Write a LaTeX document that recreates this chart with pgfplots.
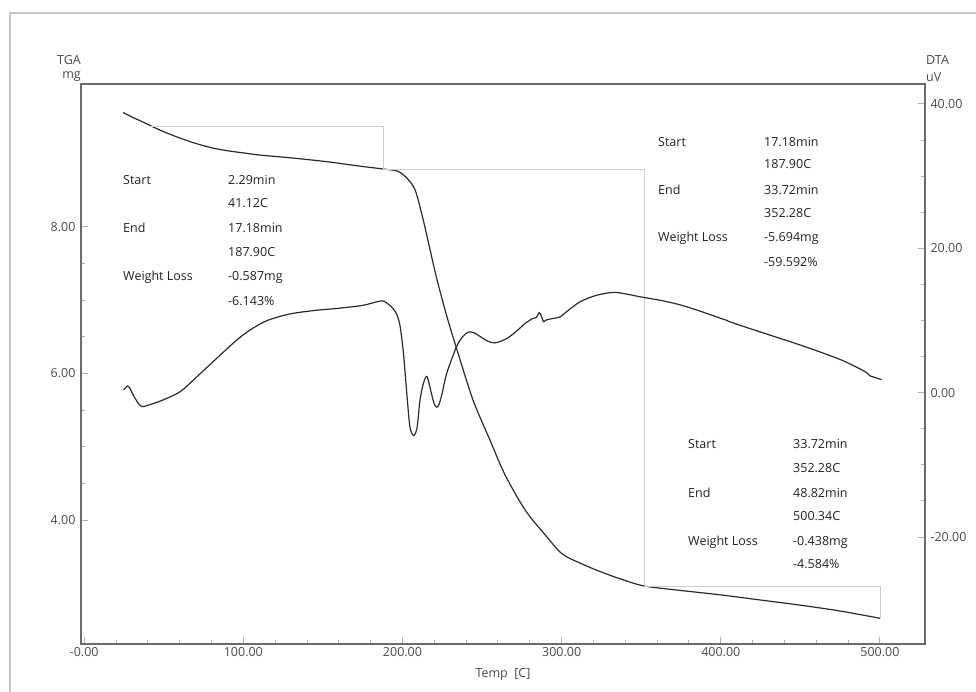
\documentclass[border=0pt]{standalone}
\usepackage{fontspec}
\setmainfont{Open Sans}
\usepackage{pgfplots}
\pgfplotsset{compat=1.18}
\definecolor{axisgray}{HTML}{6B6B6B}
\definecolor{tickgray}{HTML}{B0B0B0}
\definecolor{framegray}{HTML}{C8C8C8}
\definecolor{stepgray}{HTML}{CFCFCF}
\definecolor{curvecol}{HTML}{2B2B2B}
\definecolor{txtcol}{HTML}{222222}
\definecolor{lblcol}{HTML}{4A4A4A}
\newcommand{\af}{\fontsize{12.5}{15}\selectfont}
\begin{document}
\begin{tikzpicture}
\useasboundingbox (0pt,0pt) rectangle (976pt,-691pt);
\draw[framegray, line width=1.3pt] (10pt,-700pt) -- (10pt,-13pt) -- (990pt,-13pt);
\begin{axis}[
  at={(81pt,-644pt)}, anchor=south west,
  scale only axis, width=844pt, height=560pt,
  xmin=-2, xmax=528.3, ymin=2.31, ymax=9.95,
  axis line style={draw=axisgray, line width=1.8pt},
  xtick={0,100,200,300,400,500},
  xticklabels={-0.00,100.00,200.00,300.00,400.00,500.00},
  ytick={4,6,8}, yticklabels={4.00,6.00,8.00},
  minor x tick num=4, minor y tick num=3,
  xtick pos=bottom, ytick pos=left,
  tick align=inside,
  major tick length=7pt, minor tick length=4pt,
  every tick/.style={draw=tickgray, line width=1pt},
  tick label style={font=\fontsize{12.5}{14}\selectfont, text=lblcol},
  yticklabel style={xshift=-2pt},
  xlabel={Temp\ \ [C]},
  xlabel style={font=\fontsize{12.5}{14}\selectfont, text=lblcol, yshift=-5pt},
  clip=false,
]
\addplot[curvecol, line width=1.2pt, smooth, tension=0.5] coordinates {
(24.5,9.56) (30,9.50) (38,9.42) (47.7,9.32) (58,9.23) (68.5,9.15) (80,9.08)
(89.8,9.04) (100,9.01) (110.6,8.98) (131,8.94) (152.6,8.89) (173,8.83) (188,8.79)
(197,8.76) (203,8.66) (208,8.50) (213,8.10) (217.3,7.69) (221.7,7.28) (228,6.77)
(234.3,6.32) (244.3,5.64) (255,5.09) (264.4,4.62) (277,4.14) (289.6,3.80)
(300.3,3.54) (312,3.41) (324,3.30) (338,3.19) (352.3,3.10) (375,3.04) (400,2.98)
(425,2.91) (450,2.84) (475,2.76) (500.3,2.66)
};
\addplot[stepgray, line width=1pt] coordinates {(41.12,9.377) (187.9,9.377) (187.9,8.79)};
\addplot[stepgray, line width=1pt] coordinates {(187.9,8.79) (352.28,8.79) (352.28,3.096)};
\addplot[stepgray, line width=1pt] coordinates {(352.28,3.096) (500.34,3.096) (500.34,2.658)};
\end{axis}
\begin{axis}[
  at={(81pt,-644pt)}, anchor=south west,
  scale only axis, width=844pt, height=560pt,
  xmin=-2, xmax=528.3, ymin=-34.82, ymax=42.77,
  axis x line=none, axis y line*=right,
  axis line style={draw=axisgray, line width=1.8pt},
  ytick={-20,0,20,40}, yticklabels={-20.00,0.00,20.00,40.00},
  minor y tick num=3,
  tick align=inside,
  major tick length=7pt, minor tick length=4pt,
  every tick/.style={draw=tickgray, line width=1pt},
  tick label style={font=\fontsize{12.5}{14}\selectfont, text=lblcol},
  yticklabel style={xshift=2pt},
  clip=false,
]
\addplot[curvecol, line width=1.2pt, smooth, tension=0.5] coordinates {
(24.7,0.37) (27.2,0.93) (29,0.5) (31,-0.4) (33.5,-1.3) (36.2,-1.93) (42,-1.6)
(49.6,-1.0) (60.3,0.14) (70.8,2.21) (85.4,5.2) (95.9,7.3) (104.3,8.7) (115,10.0)
(129,10.9) (145,11.4) (160,11.7) (175,12.1) (184,12.6) (188,12.7) (192,12.1)
(194.3,11.6) (196.5,10.8) (198.5,9.2) (200.6,5.46) (202.7,-0.1) (204.5,-4.5)
(206,-5.7) (207.5,-5.9) (209,-5.0) (210,-3.2) (211,-1.0) (213,1.2) (214.5,2.1)
(215.5,2.2) (216.8,1.2) (218.4,-0.3) (220,-1.6) (221.5,-2.0) (223,-1.6) (225,0.0)
(227.8,2.7) (234,6.4) (238,7.8) (241.4,8.4) (245,8.3) (248.7,7.8) (253,7.2)
(258,6.9) (265.5,7.5) (272,8.6) (277,9.6) (279,9.9) (282,10.3) (284,10.4)
(286,11.1) (287.5,10.5) (288.5,9.85) (290.6,10.1) (295,10.3) (299,10.5) (303,11.2)
(311.6,12.6) (322,13.5) (332.5,13.9) (340,13.7) (349,13.3) (362,12.8) (374,12.2)
(387,11.3) (400,10.3) (404,10.0) (406,9.8) (425,8.4) (450,6.6) (475,4.6) (490,3.0)
(494,2.3) (497,2.1) (501,1.8)
};
\end{axis}
% axis titles
\node[anchor=east, text=lblcol, font=\fontsize{12.5}{14}\selectfont, inner sep=0pt] at (81pt,-60pt) {TGA};
\node[anchor=east, text=lblcol, font=\fontsize{12.5}{14}\selectfont, inner sep=0pt] at (81pt,-77pt) {mg};
\node[anchor=west, text=lblcol, font=\fontsize{12.5}{14}\selectfont, inner sep=0pt] at (926pt,-60pt) {DTA};
\node[anchor=west, text=lblcol, font=\fontsize{12.5}{14}\selectfont, inner sep=0pt] at (926pt,-77pt) {uV};
% annotation block 1
\begin{scope}[every node/.style={anchor=west, text=txtcol, font=\af, inner sep=0pt}]
\node at (123pt,-180pt) {Start};
\node at (228pt,-180pt) {2.29min};
\node at (228pt,-203pt) {41.12C};
\node at (123pt,-228pt) {End};
\node at (228pt,-228pt) {17.18min};
\node at (228pt,-252pt) {187.90C};
\node at (123pt,-277pt) {Weight Loss};
\node at (228pt,-277pt) {-0.587mg};
\node at (228pt,-301pt) {-6.143\%};
% block 2
\node at (658pt,-142pt) {Start};
\node at (764pt,-142pt) {17.18min};
\node at (764pt,-164pt) {187.90C};
\node at (658pt,-190pt) {End};
\node at (764pt,-190pt) {33.72min};
\node at (764pt,-213pt) {352.28C};
\node at (658pt,-238pt) {Weight Loss};
\node at (764pt,-238pt) {-5.694mg};
\node at (764pt,-262pt) {-59.592\%};
% block 3
\node at (688pt,-444pt) {Start};
\node at (793pt,-444pt) {33.72min};
\node at (793pt,-468pt) {352.28C};
\node at (688pt,-493pt) {End};
\node at (793pt,-493pt) {48.82min};
\node at (793pt,-516pt) {500.34C};
\node at (688pt,-542pt) {Weight Loss};
\node at (793pt,-542pt) {-0.438mg};
\node at (793pt,-564pt) {-4.584\%};
\end{scope}
\end{tikzpicture}
\end{document}
